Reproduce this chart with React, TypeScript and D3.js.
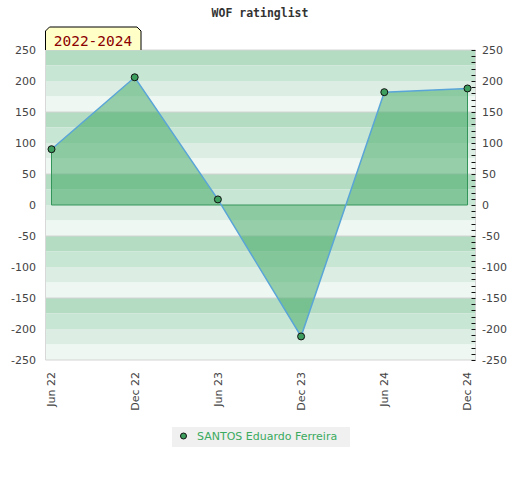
import React from "react";
import * as d3 from "d3";

const title = "WOF ratinglist";
const periodLabel = "2022-2024";
const playerName = "SANTOS Eduardo Ferreira";
const periods = ["Jun 22", "Dec 22", "Jun 23", "Dec 23", "Jun 24", "Dec 24"];
const ratings = [90, 206, 9, -212, 182, 188];
const yTicks = [250, 200, 150, 100, 50, 0, -50, -100, -150, -200, -250];
const bandColors = ["#b3dcc2", "#c8e6d4", "#dceee3", "#eef7f1"];

export default function App() {
  const W = 520, H = 480;
  const left = 45.5, right = 475.5, top = 50, bottom = 360;
  const y = d3.scaleLinear().domain([-250, 250]).range([bottom, top]);
  const x = d3.scalePoint<string>().domain(periods).range([left + 6, right - 8]);
  const pts = periods.map((p, i) => [x(p) as number, y(ratings[i])] as [number, number]);

  const bands: { v0: number; v1: number; c: string }[] = [];
  for (let i = 0; i < 20; i++) {
    const v0 = 250 - i * 25;
    bands.push({ v0, v1: v0 - 25, c: bandColors[i % 4] });
  }
  const gridVals = d3.range(250, -251, -100);
  const minor = d3.range(-250, 251, 10);

  const area = d3
    .area<[number, number]>()
    .x((d) => d[0])
    .y0(y(0))
    .y1((d) => d[1]);
  const line = d3.line<[number, number]>().x((d) => d[0]).y((d) => d[1]);
  const x0 = pts[0][0], xn = pts[pts.length - 1][0];
  const outline = `M${x0},${y(0)}L${pts[0][0]},${pts[0][1]}M${xn},${pts[pts.length - 1][1]}L${xn},${y(0)}L${x0},${y(0)}`;

  const font = "DejaVu Sans, sans-serif";
  return (
    <svg width={W} height={H} style={{ position: "absolute", left: 0, top: 0, background: "#fff" }}>
      <text x={260} y={17} textAnchor="middle" fontFamily="DejaVu Sans Mono, monospace" fontWeight="bold" fontSize={11.5} fill="#333">
        {title}
      </text>
      {bands.map((b, i) => (
        <rect key={i} x={left} y={y(b.v0)} width={right - left} height={y(b.v1) - y(b.v0)} fill={b.c} />
      ))}
      {gridVals.map((v) => (
        <line key={v} x1={left} x2={right} y1={y(v)} y2={y(v)} stroke="#d4d4d4" strokeWidth={1} />
      ))}
      <line x1={left} x2={left} y1={top} y2={bottom} stroke="#d8d8d8" />
      <line x1={right} x2={right} y1={top} y2={bottom} stroke="#d8d8d8" />
      <path d={area(pts) || ""} fill="rgba(60,165,95,0.5)" stroke="none" />
      <path d={outline} fill="none" stroke="#34955a" strokeWidth={1} />
      <path d={line(pts) || ""} fill="none" stroke="#5aa5d8" strokeWidth={1.5} />
      {pts.map((p, i) => (
        <circle key={i} cx={p[0]} cy={p[1]} r={3.5} fill="#3d9e5e" stroke="#111" strokeWidth={1} />
      ))}
      {minor.map((v) => (
        <line key={v} x1={right - 4} x2={right} y1={Math.round(y(v)) + 0.5} y2={Math.round(y(v)) + 0.5} stroke="#111" strokeWidth={1} />
      ))}
      {yTicks.map((v) => (
        <g key={v} fontFamily={font} fontSize={11} fill="#444">
          <text x={36} y={y(v)} dy="0.35em" textAnchor="end">{v}</text>
          <text x={482} y={y(v)} dy="0.35em" textAnchor="start">{v}</text>
        </g>
      ))}
      {periods.map((p) => (
        <text
          key={p}
          transform={`translate(${x(p)},372) rotate(-90)`}
          dy="0.35em"
          textAnchor="end"
          fontFamily={font}
          fontSize={11}
          fill="#444"
        >
          {p}
        </text>
      ))}
      <path
        d={`M${left},${top}L${left},31L${left + 4},27L137,27L141,31L141,${top}`}
        fill="#ffffc8"
        stroke="#000"
        strokeWidth={1}
      />
      <text x={93} y={45.5} textAnchor="middle" fontFamily="DejaVu Sans Mono, monospace" fontSize={14.5} fill="#8b0000">
        {periodLabel}
      </text>
      <rect x={172} y={427} width={178} height={20} fill="#f0f0f0" />
      <circle cx={183.5} cy={436} r={3} fill="#3d9e5e" stroke="#111" strokeWidth={1} />
      <text x={197} y={436} dy="0.35em" fontFamily={font} fontSize={11} fill="#3aaa5e">
        {playerName}
      </text>
    </svg>
  );
}
